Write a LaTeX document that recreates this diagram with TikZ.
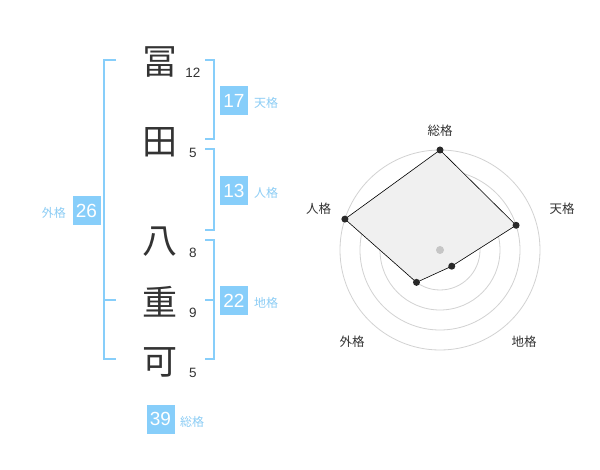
\documentclass[tikz,border=0pt]{standalone}
\usepackage{fontspec}
\setmainfont{Liberation Sans}
\newfontfamily\cjk{Noto Sans CJK JP}
\usetikzlibrary{calc}
\definecolor{skyb}{RGB}{135,206,250}
\definecolor{labb}{RGB}{140,205,245}
\definecolor{ink}{RGB}{51,51,51}
\definecolor{ringc}{RGB}{210,210,210}
\definecolor{fillc}{RGB}{240,240,240}
\tikzset{
  kanji/.style={font=\cjk\fontsize{35}{35}\selectfont, text=ink, inner sep=0pt},
  strokes/.style={font=\fontsize{13.5}{14}\selectfont, text=ink, inner sep=0pt},
  valbox/.style={fill=skyb, text=white, minimum width=28pt, minimum height=29pt, inner sep=0pt, font=\fontsize{19}{19}\selectfont},
  kaku/.style={font=\cjk\fontsize{12}{12}\selectfont, text=labb, inner sep=0pt},
  brk/.style={draw=skyb, line width=2pt},
  ring/.style={draw=ringc, line width=0.8pt},
  axlab/.style={font=\cjk\fontsize{12.5}{12.5}\selectfont, text=ink, inner sep=0pt},
  dot/.style={circle, fill=ink!80!black, inner sep=0pt, minimum size=7pt}
}
\begin{document}
\begin{tikzpicture}[x=1pt,y=-1pt]
\useasboundingbox[fill=white] (0,0) rectangle (600,470);
% characters
\node[kanji] (k1) at (160,62) {冨};
\node[kanji] (k2) at (160,142) {田};
\node[kanji] (k3) at (160,242) {八};
\node[kanji] (k4) at (160,302) {重};
\node[kanji] (k5) at (160,362) {可};
% stroke counts
\node[strokes] (s1) at (193,73) {12};
\node[strokes] (s2) at (193,153) {5};
\node[strokes] (s3) at (193,253) {8};
\node[strokes] (s4) at (193,313) {9};
\node[strokes] (s5) at (193,373) {5};
% right brackets
\coordinate (t1) at (205,60); \coordinate (t2) at (214,60);
\coordinate (t3) at (214,139); \coordinate (t4) at (205,139);
\draw[brk] (t1) -- (t2) -- (t3) -- (t4);
\coordinate (j1) at (205,149); \coordinate (j2) at (214,149);
\coordinate (j3) at (214,230); \coordinate (j4) at (205,230);
\draw[brk] (j1) -- (j2) -- (j3) -- (j4);
\coordinate (c1) at (205,240); \coordinate (c2) at (214,240);
\coordinate (c3) at (214,359); \coordinate (c4) at (205,359);
\coordinate (cm1) at (205,300); \coordinate (cm2) at (214,300);
\draw[brk] (c1) -- (c2) -- (c3) -- (c4);
\draw[brk] (cm1) -- (cm2);
% left bracket
\coordinate (g1) at (116,60); \coordinate (g2) at (104,60);
\coordinate (g3) at (104,359); \coordinate (g4) at (116,359);
\coordinate (gm1) at (104,300); \coordinate (gm2) at (116,300);
\draw[brk] (g1) -- (g2) -- (g3) -- (g4);
\draw[brk] (gm1) -- (gm2);
% value boxes
\node[valbox] (b17) at (234,100.5) {17};
\node[kaku, anchor=west] (l17) at (254,103) {天格};
\node[valbox] (b13) at (234,190.5) {13};
\node[kaku, anchor=west] (l13) at (254,193) {人格};
\node[valbox] (b22) at (234,300.5) {22};
\node[kaku, anchor=west] (l22) at (254,303) {地格};
\node[valbox] (b26) at (86.5,210.5) {26};
\node[kaku, anchor=east] (l26) at (66,213) {外格};
\node[valbox] (b39) at (160.5,419) {39};
\node[kaku, anchor=west] (l39) at (180,422) {総格};
% radar
\coordinate (c) at (440,250);
\foreach \r in {20,40,60,80,100} \draw[ring] (c) circle[radius=\r pt];
\coordinate (pS) at ($(c)+(90:100pt)$);
\coordinate (pT) at ($(c)+(18:80pt)$);
\coordinate (pC) at ($(c)+(-54:20pt)$);
\coordinate (pG) at ($(c)+(-126:40pt)$);
\coordinate (pJ) at ($(c)+(162:100pt)$);
\draw[fill=fillc, draw=black, line width=0.6pt] (pS) -- (pT) -- (pC) -- (pG) -- (pJ) -- cycle;
\node[circle, fill=ringc!85!gray, inner sep=0pt, minimum size=8pt] (ctr) at (c) {};
\foreach \p in {pS,pT,pC,pG,pJ} \node[dot] at (\p) {};
\node[axlab] (aS) at (440,130.5) {総格};
\node[axlab] (aT) at (562,208.5) {天格};
\node[axlab] (aC) at (524,342) {地格};
\node[axlab] (aG) at (352,342) {外格};
\node[axlab] (aJ) at (318.5,208.5) {人格};
\end{tikzpicture}
\end{document}
